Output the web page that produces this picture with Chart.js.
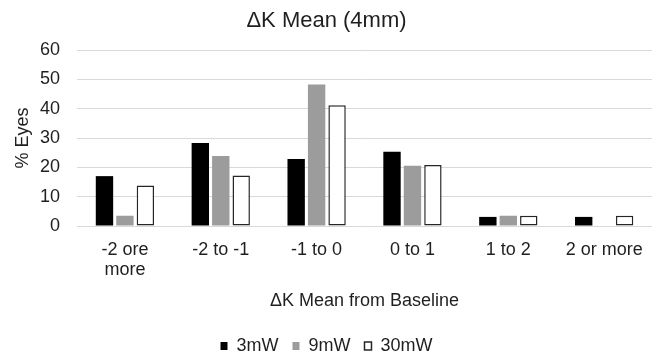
<!DOCTYPE html>
<html>
<head>
<meta charset="utf-8">
<script src="https://cdn.jsdelivr.net/npm/chart.js@4"></script>
<style>
  html, body { margin: 0; padding: 0; background: #fff; }
  #wrap { width: 657px; height: 358px; position: relative; }
</style>
</head>
<body>
<div id="wrap"><canvas id="chart"></canvas></div>
<script>
const categories = [['-2 ore', 'more'], '-2 to -1', '-1 to 0', '0 to 1', '1 to 2', '2 or more'];
const series3mW = [17.0, 28.3, 22.8, 25.3, 3.1, 3.1];
const series9mW = [3.5, 23.9, 48.2, 20.5, 3.5, 0];
const series30mW = [13.8, 17.2, 41.2, 20.8, 3.5, 3.5];
const yTicks = [0, 10, 20, 30, 40, 50, 60];

const textColor = '#1f1f1f';
const fontFamily = '"Liberation Sans", Arial, sans-serif';

new Chart(document.getElementById('chart'), {
    type: 'bar',
    data: {
        labels: categories,
        datasets: [
            {
                label: '3mW',
                data: series3mW,
                backgroundColor: '#000000',
                borderColor: '#000000',
                borderWidth: 0,
            },
            {
                label: '9mW',
                data: series9mW,
                backgroundColor: '#9c9c9c',
                borderColor: '#9c9c9c',
                borderWidth: 0,
            },
            {
                label: '30mW',
                data: series30mW,
                backgroundColor: '#ffffff',
                borderColor: '#262626',
                borderWidth: 1.5,
                borderSkipped: false,
            },
        ]
    },
    options: {
        responsive: true,
        maintainAspectRatio: false,
        animation: false,
        datasets: {
            bar: {
                categoryPercentage: 0.64,
                barPercentage: 0.85,
            }
        },
        layout: {
            padding: {left: 0, right: 4, top: 0, bottom: -7}
        },
        plugins: {
            title: {
                display: true,
                text: '\u0394K Mean (4mm)',
                color: textColor,
                font: {family: fontFamily, size: 22, weight: 'normal', lineHeight: 1.2},
                padding: {top: 8, bottom: 15.6},
            },
            legend: {
                position: 'bottom',
                labels: {
                    color: textColor,
                    boxWidth: 7,
                    boxHeight: 8,
                    padding: 14,
                    font: {family: fontFamily, size: 18},
                },
            },
            tooltip: {enabled: false},
        },
        scales: {
            x: {
                grid: {display: false, drawTicks: false},
                border: {display: false},
                ticks: {
                    color: textColor,
                    padding: 14,
                    maxRotation: 0,
                    autoSkip: false,
                    font: {family: fontFamily, size: 18, lineHeight: 1.1},
                },
                title: {
                    display: true,
                    text: '\u0394K Mean from Baseline',
                    color: textColor,
                    font: {family: fontFamily, size: 18, lineHeight: 1.2},
                    padding: {top: 4, bottom: 11.2},
                },
                afterFit: (scale) => { scale.height = 97; },
            },
            y: {
                min: 0,
                max: 60,
                afterBuildTicks: (scale) => { scale.ticks = yTicks.map(v => ({value: v})); },
                grid: {color: '#d9d9d9', lineWidth: 1, drawTicks: false},
                border: {display: false},
                ticks: {
                    color: textColor,
                    padding: 17,
                    font: {family: fontFamily, size: 18},
                },
                title: {
                    display: true,
                    text: '% Eyes',
                    color: textColor,
                    font: {family: fontFamily, size: 18, lineHeight: 1.2},
                    padding: {top: 12, bottom: 0},
                },
                afterFit: (scale) => { scale.width = 77; },
            }
        }
    }
});
</script>
</body>
</html>
